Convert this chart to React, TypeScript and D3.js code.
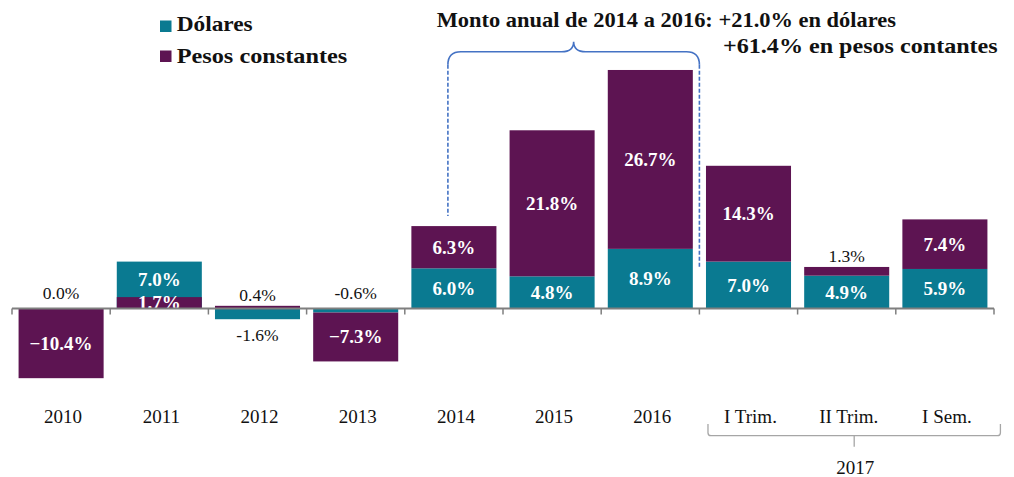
import React from "react";
import * as d3 from "d3";

const categories = ["2010", "2011", "2012", "2013", "2014", "2015", "2016", "I Trim.", "II Trim.", "I Sem."];
const dolares = [0.0, 7.0, -1.6, -0.6, 6.0, 4.8, 8.9, 7.0, 4.9, 5.9];
const pesos = [-10.4, 1.7, 0.4, -7.3, 6.3, 21.8, 26.7, 14.3, 1.3, 7.4];
const overlapCategories = ["2011"];
const groupLabel = "2017";
const groupMembers = ["I Trim.", "II Trim.", "I Sem."];
const seriesNames = ["Dólares", "Pesos constantes"];
const titleLine1 = "Monto anual de 2014 a 2016: +21.0% en dólares";
const titleLine2 = "+61.4% en pesos contantes";
const braceFrom = "2014";
const braceTo = "2016";

const W = 1014;
const H = 477;
const TEAL = "#0a7a91";
const PURPLE = "#5d1452";
const FONT = "'Liberation Serif', 'Times New Roman', serif";

export default function App() {
  const x = d3.scaleBand<string>().domain(categories).range([12, 994]).paddingInner(0.134).paddingOuter(0.067);
  const y = d3.scaleLinear().domain([-12, 36]).range([308.5 + 12 * 6.7, 308.5 - 36 * 6.7]);
  const step = x.step();
  const bw = x.bandwidth();

  const rows = categories.map((c, i) => ({ cat: c, d: dolares[i], p: pesos[i] }));
  const stack = d3.stack<any>().keys(["d", "p"]).offset(d3.stackOffsetDiverging);
  const stacked = stack(rows);
  // overlapped categories: both series start from zero
  categories.forEach((c, i) => {
    if (overlapCategories.includes(c)) {
      stacked[0][i][0] = 0; stacked[0][i][1] = dolares[i];
      stacked[1][i][0] = 0; stacked[1][i][1] = pesos[i];
    }
  });

  const fmt = d3.format(".1f");
  const colors = [TEAL, PURPLE];

  const bars: any[] = [];
  const labels: any[] = [];
  categories.forEach((c, i) => {
    const x0 = x(c)!;
    const isOverlap = overlapCategories.includes(c);
    const posTop = Math.max(0, stacked[0][i][1], stacked[1][i][1]);
    const negBottom = Math.min(0, stacked[0][i][0], stacked[1][i][0]);
    [0, 1].forEach((k) => {
      const seg = stacked[k][i];
      let a = Math.min(seg[0], seg[1]);
      const b = Math.max(seg[0], seg[1]);
      const v = k === 0 ? dolares[i] : pesos[i];
      const other = k === 0 ? pesos[i] : dolares[i];
      bars.push(
        <rect key={`b${k}-${c}`} x={x0} width={bw} y={y(b)} height={Math.max(0, y(a) - y(b))} fill={colors[k]} />
      );
      // in overlapped categories the taller bar's label sits in its visible part
      let la = a;
      if (isOverlap && Math.abs(v) > Math.abs(other) && Math.sign(v) === Math.sign(other)) la = other;
      if (Math.abs(v) >= 1.7) {
        labels.push(
          <text key={`l${k}-${c}`} x={x0 + bw / 2} y={y((la + b) / 2) + 6.5} textAnchor="middle"
            fill="#ffffff" fontWeight="bold" fontSize={19} fontFamily={FONT}>
            {fmt(v) + "%"}
          </text>
        );
      } else {
        const txt = fmt(v).replace("\u2212", "-") + "%";
        let yy: number;
        if (v >= 0 || other < 0) {
          yy = y(posTop) - (posTop === 0 ? 10 : 4.5);
        } else {
          yy = y(negBottom) + 22;
        }
        labels.push(
          <text key={`l${k}-${c}`} x={x0 + bw / 2} y={yy} textAnchor="middle"
            fill="#111111" fontSize={17.5} fontFamily={FONT}>
            {txt}
          </text>
        );
      }
    });
  });

  const ticks = d3.range(categories.length + 1).map((i) => 12 + i * step);

  // brace annotation
  const bL = x(braceFrom)! + bw / 2 - 6;
  const bR = x(braceTo)! + bw + (step - bw) / 2;
  const bMid = (bL + bR) / 2;
  const hY = 51.7;
  const topY = 41.7;
  const r = 13;
  const bracePath = `M${bL},${hY + r} Q${bL},${hY} ${bL + r},${hY} L${bMid - 12},${hY} Q${bMid},${hY} ${bMid},${topY}` +
    ` Q${bMid},${hY} ${bMid + 12},${hY} L${bR - r},${hY} Q${bR},${hY} ${bR},${hY + r}`;
  const i2014 = categories.indexOf(braceFrom);
  const leftEnd = y(dolares[i2014] + pesos[i2014]) - 10;
  const rightEnd = y(6.2);

  // group bracket
  const g0 = x(groupMembers[0])! + 2;
  const g1 = x(groupMembers[groupMembers.length - 1])! + bw + 13;
  const gMid = (g0 + g1) / 2;
  const gy = 435.7;

  return (
    <svg width={W} height={H} style={{ position: "absolute", left: 0, top: 0, background: "#fff" }}>
      <rect x={0} y={0} width={W} height={H} fill="#ffffff" />
      {bars}
      {labels}
      <line x1={12} x2={994} y1={y(0)} y2={y(0)} stroke="#7f7f7f" strokeWidth={2} />
      {ticks.map((t, i) => (
        <line key={`t${i}`} x1={t} x2={t} y1={y(0)} y2={y(0) + 6} stroke="#7f7f7f" strokeWidth={1.5} />
      ))}
      {categories.map((c) => (
        <text key={`x-${c}`} x={x(c)! + bw / 2 + 2} y={423} textAnchor="middle" fontSize={19}
          fontFamily={FONT} fill="#111111">{c}</text>
      ))}
      <path d={`M${g0},424 L${g0},${gy - 3} Q${g0},${gy} ${g0 + 3},${gy} L${g1 - 3},${gy} Q${g1},${gy} ${g1},${gy - 3} L${g1},424`}
        fill="none" stroke="#a6a6a6" strokeWidth={1.3} />
      <line x1={gMid} x2={gMid} y1={gy} y2={446.7} stroke="#a6a6a6" strokeWidth={1.3} />
      <text x={gMid + 1} y={474} textAnchor="middle" fontSize={19} fontFamily={FONT} fill="#111111">{groupLabel}</text>

      {/* legend */}
      <rect x={160} y={20.5} width={11.5} height={11.5} fill={TEAL} />
      <text x={176.7} y={31} fontSize={21} fontWeight="bold" fontFamily={FONT} fill="#111111"
        textLength={76} lengthAdjust="spacingAndGlyphs">{seriesNames[0]}</text>
      <rect x={160} y={50.5} width={11.5} height={11.5} fill={PURPLE} />
      <text x={176.7} y={63.3} fontSize={21} fontWeight="bold" fontFamily={FONT} fill="#111111"
        textLength={170.6} lengthAdjust="spacingAndGlyphs">{seriesNames[1]}</text>

      {/* title */}
      <text x={436.7} y={26.7} fontSize={21} fontWeight="bold" fontFamily={FONT} fill="#111111"
        textLength={459.3} lengthAdjust="spacingAndGlyphs">{titleLine1}</text>
      <text x={723} y={52.7} fontSize={21} fontWeight="bold" fontFamily={FONT} fill="#111111"
        textLength={274.7} lengthAdjust="spacingAndGlyphs">{titleLine2}</text>

      {/* brace */}
      <path d={bracePath} fill="none" stroke="#4472c4" strokeWidth={1.6} />
      <line x1={bL} x2={bL} y1={hY + r} y2={leftEnd} stroke="#4472c4" strokeWidth={1.6} strokeDasharray="4,2" />
      <line x1={bR} x2={bR} y1={hY + r} y2={rightEnd} stroke="#4472c4" strokeWidth={1.6} strokeDasharray="4,2" />
    </svg>
  );
}
